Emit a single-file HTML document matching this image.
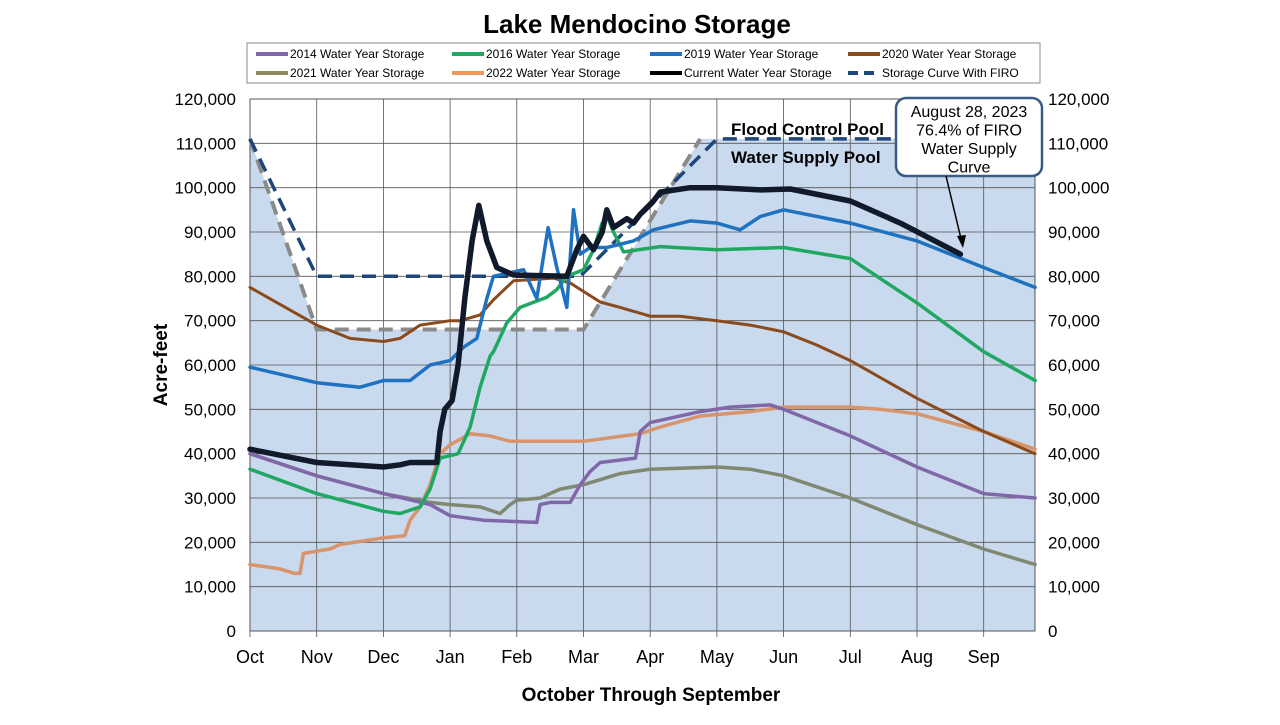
<!DOCTYPE html>
<html><head><meta charset="utf-8"><style>
body{margin:0;background:#fff;width:1280px;height:720px;overflow:hidden;font-family:"Liberation Sans",Arial,sans-serif}
</style></head><body>
<svg id="chart" width="1280" height="720" viewBox="0 0 1280 720" xmlns="http://www.w3.org/2000/svg" font-family="Liberation Sans, Arial, sans-serif">
<text x="637" y="33" text-anchor="middle" font-size="26" font-weight="bold">Lake Mendocino Storage</text>
<g id="plot"></g>
<g id="legend"></g>
</svg>
<script>
const monthLabels=["Oct","Nov","Dec","Jan","Feb","Mar","Apr","May","Jun","Jul","Aug","Sep"];
const yTicks=[0,10000,20000,30000,40000,50000,60000,70000,80000,90000,100000,110000,120000];
const s2014x=[0,1,2,2.7,3,3.5,4.3,4.35,4.5,4.8,4.95,5.1,5.25,5.78,5.85,6,6.75,7.2,7.8,8,9,10,11,11.77];
const s2014y=[40,35,31,28.5,26,25,24.5,28.5,29,29,33,36,38,39,45,47,49.5,50.5,51,50,44,37,31,30];
const s2016x=[0,1,2,2.25,2.55,2.7,2.85,3.12,3.3,3.45,3.6,3.65,3.85,4.05,4.45,4.6,4.75,5,5.15,5.28,5.37,5.45,5.6,6.15,7,8,9,10,11,11.77];
const s2016y=[36.5,31,27,26.5,28,32,39,40,46,55,62,63,69.5,73,75.3,77,80,81.5,86,92,93,90,85.5,86.7,86,86.5,84,74,63,56.5];
const s2019x=[0,1,1.65,2,2.4,2.7,3,3.2,3.4,3.55,3.65,4.1,4.3,4.47,4.6,4.75,4.85,4.95,5.1,5.35,5.75,6.05,6.6,7,7.35,7.65,8,9,10,11,11.77];
const s2019y=[59.5,56,55,56.5,56.5,60,61,64,66,75,80,81.5,75,91,82,73,95,85,86.5,86.5,88,90.5,92.5,92,90.5,93.5,95,92,88,82,77.5];
const s2020x=[0,1,1.5,2,2.25,2.55,3,3.15,3.45,3.65,3.95,4.55,4.8,5.25,5.55,6,6.45,7,7.5,8,8.5,9,10,11,11.77];
const s2020y=[77.5,69,66,65.3,66,69,70,70,71.3,74.7,79,79.6,78.5,74.2,73,71,71,70,69,67.5,64.5,61,52.5,45,40];
const s2021x=[0,1,2,2.7,3,3.45,3.75,3.9,4,4.35,4.65,5,5.55,6,7,7.5,8,9,10,11,11.77];
const s2021y=[40,35,31,29,28.5,28,26.5,28.5,29.5,30,32,33,35.5,36.5,37,36.5,35,30,24,18.5,15];
const s2022x=[0,0.45,0.67,0.75,0.8,1.2,1.35,2,2.32,2.4,2.55,2.7,2.85,3,3.3,3.6,3.9,5,5.85,6.15,6.75,7.5,8,9,9.45,10,11,11.77];
const s2022y=[15,14,13,13,17.5,18.5,19.5,21,21.5,25,28,33,40,42,44.5,44,42.8,42.8,44.5,46,48.5,49.5,50.5,50.5,50,49,45,41];
const curX=[0,1,2,2.25,2.4,2.8,2.85,2.92,3.03,3.12,3.22,3.33,3.43,3.55,3.7,3.95,4.75,4.9,5,5.15,5.28,5.35,5.45,5.65,5.75,5.85,6.05,6.15,6.6,7,7.65,8.1,9,9.75,10.65];
const curY=[41,38,37,37.5,38,38,45,50,52,60,75,88,96,88,82,80.3,80,86,89,86,90,95,91,93,92,94,97,99,100,100,99.5,99.7,97,92,85];
const firoX=[0,1,4.95,7,11.77];
const firoY=[111,80,80,111,111];
const wsX=[0,1,5,6.75,11.77];
const wsY=[111,68,68,111,111];
const L=250,R=1035,T=99,B=631,MW=66.7;
const X=m=>L+m*MW, Y=v=>B-(v/120)*(B-T);
const NS="http://www.w3.org/2000/svg";
const plot=document.getElementById('plot');
function mk(tag,attrs,parent){const e=document.createElementNS(NS,tag);for(const k in attrs)e.setAttribute(k,attrs[k]);(parent||plot).appendChild(e);return e;}
function pts(xs,ys){return xs.map((x,i)=>X(x).toFixed(1)+","+Y(ys[i]).toFixed(1)).join(" ");}
// background fill under water supply curve
const fillPts=pts(wsX,wsY)+" "+X(11.77)+","+B+" "+L+","+B;
const bg=mk('polygon',{points:fillPts,fill:'#c9d9ee'});


// grid
yTicks.forEach(t=>{const y=Y(t/1000);const g=mk('line',{x1:L,x2:R,y1:y,y2:y,stroke:'#555','stroke-width':0.8});


const lt=mk('text',{x:L-14,y:y+6,'text-anchor':'end','font-size':17});lt.textContent=t.toLocaleString('en-US');


const rt=mk('text',{x:R+13,y:y+6,'font-size':17});rt.textContent=t.toLocaleString('en-US');

});
monthLabels.forEach((m,i)=>{const x=X(i);const g=mk('line',{x1:x,x2:x,y1:T,y2:B+6,stroke:'#555','stroke-width':0.8});


const t=mk('text',{x:x,y:663,'text-anchor':'middle','font-size':18});t.textContent=m;

});
const fr=mk('rect',{x:L,y:T,width:R-L,height:B-T,fill:'none',stroke:'#555','stroke-width':1});


// dashed curves
const ws=mk('polyline',{points:pts(wsX.slice(0,4),wsY.slice(0,4)),fill:'none',stroke:'#8a8a8a','stroke-width':4,'stroke-dasharray':'14,8'});


const fi=mk('polyline',{points:pts(firoX,firoY),fill:'none',stroke:'#1f4678','stroke-width':3.5,'stroke-dasharray':'14,8'});


const series=[
 ['series-2022',s2022x,s2022y,'#d8946a',3.5],
 ['series-2021',s2021x,s2021y,'#7f8870',3.5],
 ['series-2014',s2014x,s2014y,'#8068a8',3.5],
 ['series-2020',s2020x,s2020y,'#8b4a1c',3],
 ['series-2016',s2016x,s2016y,'#1fa862',3.5],
 ['series-2019',s2019x,s2019y,'#1f72c0',3.5],
 ['series-current',curX,curY,'#111a2a',5.5]];
series.forEach(s=>{const p=mk('polyline',{points:pts(s[1],s[2]),fill:'none',stroke:s[3],'stroke-width':s[4],'stroke-linejoin':'round','stroke-linecap':'round'});

});
// pool labels
const fc=mk('text',{x:731,y:135,'font-size':17,'font-weight':'bold'});fc.textContent='Flood Control Pool';


const wl=mk('text',{x:731,y:163,'font-size':17,'font-weight':'bold'});wl.textContent='Water Supply Pool';


// callout
const cb=mk('rect',{x:896,y:98,width:146,height:78,rx:10,fill:'#fff',stroke:'#3a5a88','stroke-width':2.5});


['August 28, 2023','76.4% of FIRO','Water Supply','Curve'].forEach((t,i)=>{const e=mk('text',{x:969,y:117+i*18.5,'text-anchor':'middle','font-size':16});e.textContent=t;

});
const ar=mk('line',{x1:946,y1:176,x2:962,y2:243,stroke:'#000','stroke-width':1.5});


const ah=mk('polygon',{points:'963,248 957,236 966,235',fill:'#000'});


// axis titles
const yt=mk('text',{x:167,y:365,'text-anchor':'middle','font-size':19,'font-weight':'bold',transform:'rotate(-90 167 365)'});yt.textContent='Acre-feet';


const xt=mk('text',{x:651,y:701,'text-anchor':'middle','font-size':19,'font-weight':'bold'});xt.textContent='October Through September';


// legend
const lg=document.getElementById('legend');
mk('rect',{x:247,y:43,width:793,height:40,fill:'#fff',stroke:'#888','stroke-width':1},lg);
const leg=[['2014 Water Year Storage','#8068a8',0],['2016 Water Year Storage','#1fa862',0],['2019 Water Year Storage','#1f72c0',0],['2020 Water Year Storage','#8b4a1c',0],
['2021 Water Year Storage','#8a8a62',0],['2022 Water Year Storage','#f0985a',0],['Current Water Year Storage','#000',0],['Storage Curve With FIRO','#1f4678',1]];
const lx=[256,452,650,848];
leg.forEach((l,i)=>{const x=lx[i%4],y=i<4?54:73;
const sw=mk('line',{x1:x,x2:x+32,y1:y,y2:y,stroke:l[1],'stroke-width':4,'stroke-dasharray':l[2]?'10,6':'none'},lg);


const t=mk('text',{x:x+34,y:y+4,'font-size':12},lg);t.textContent=l[0];

});
</script>
</body></html>
